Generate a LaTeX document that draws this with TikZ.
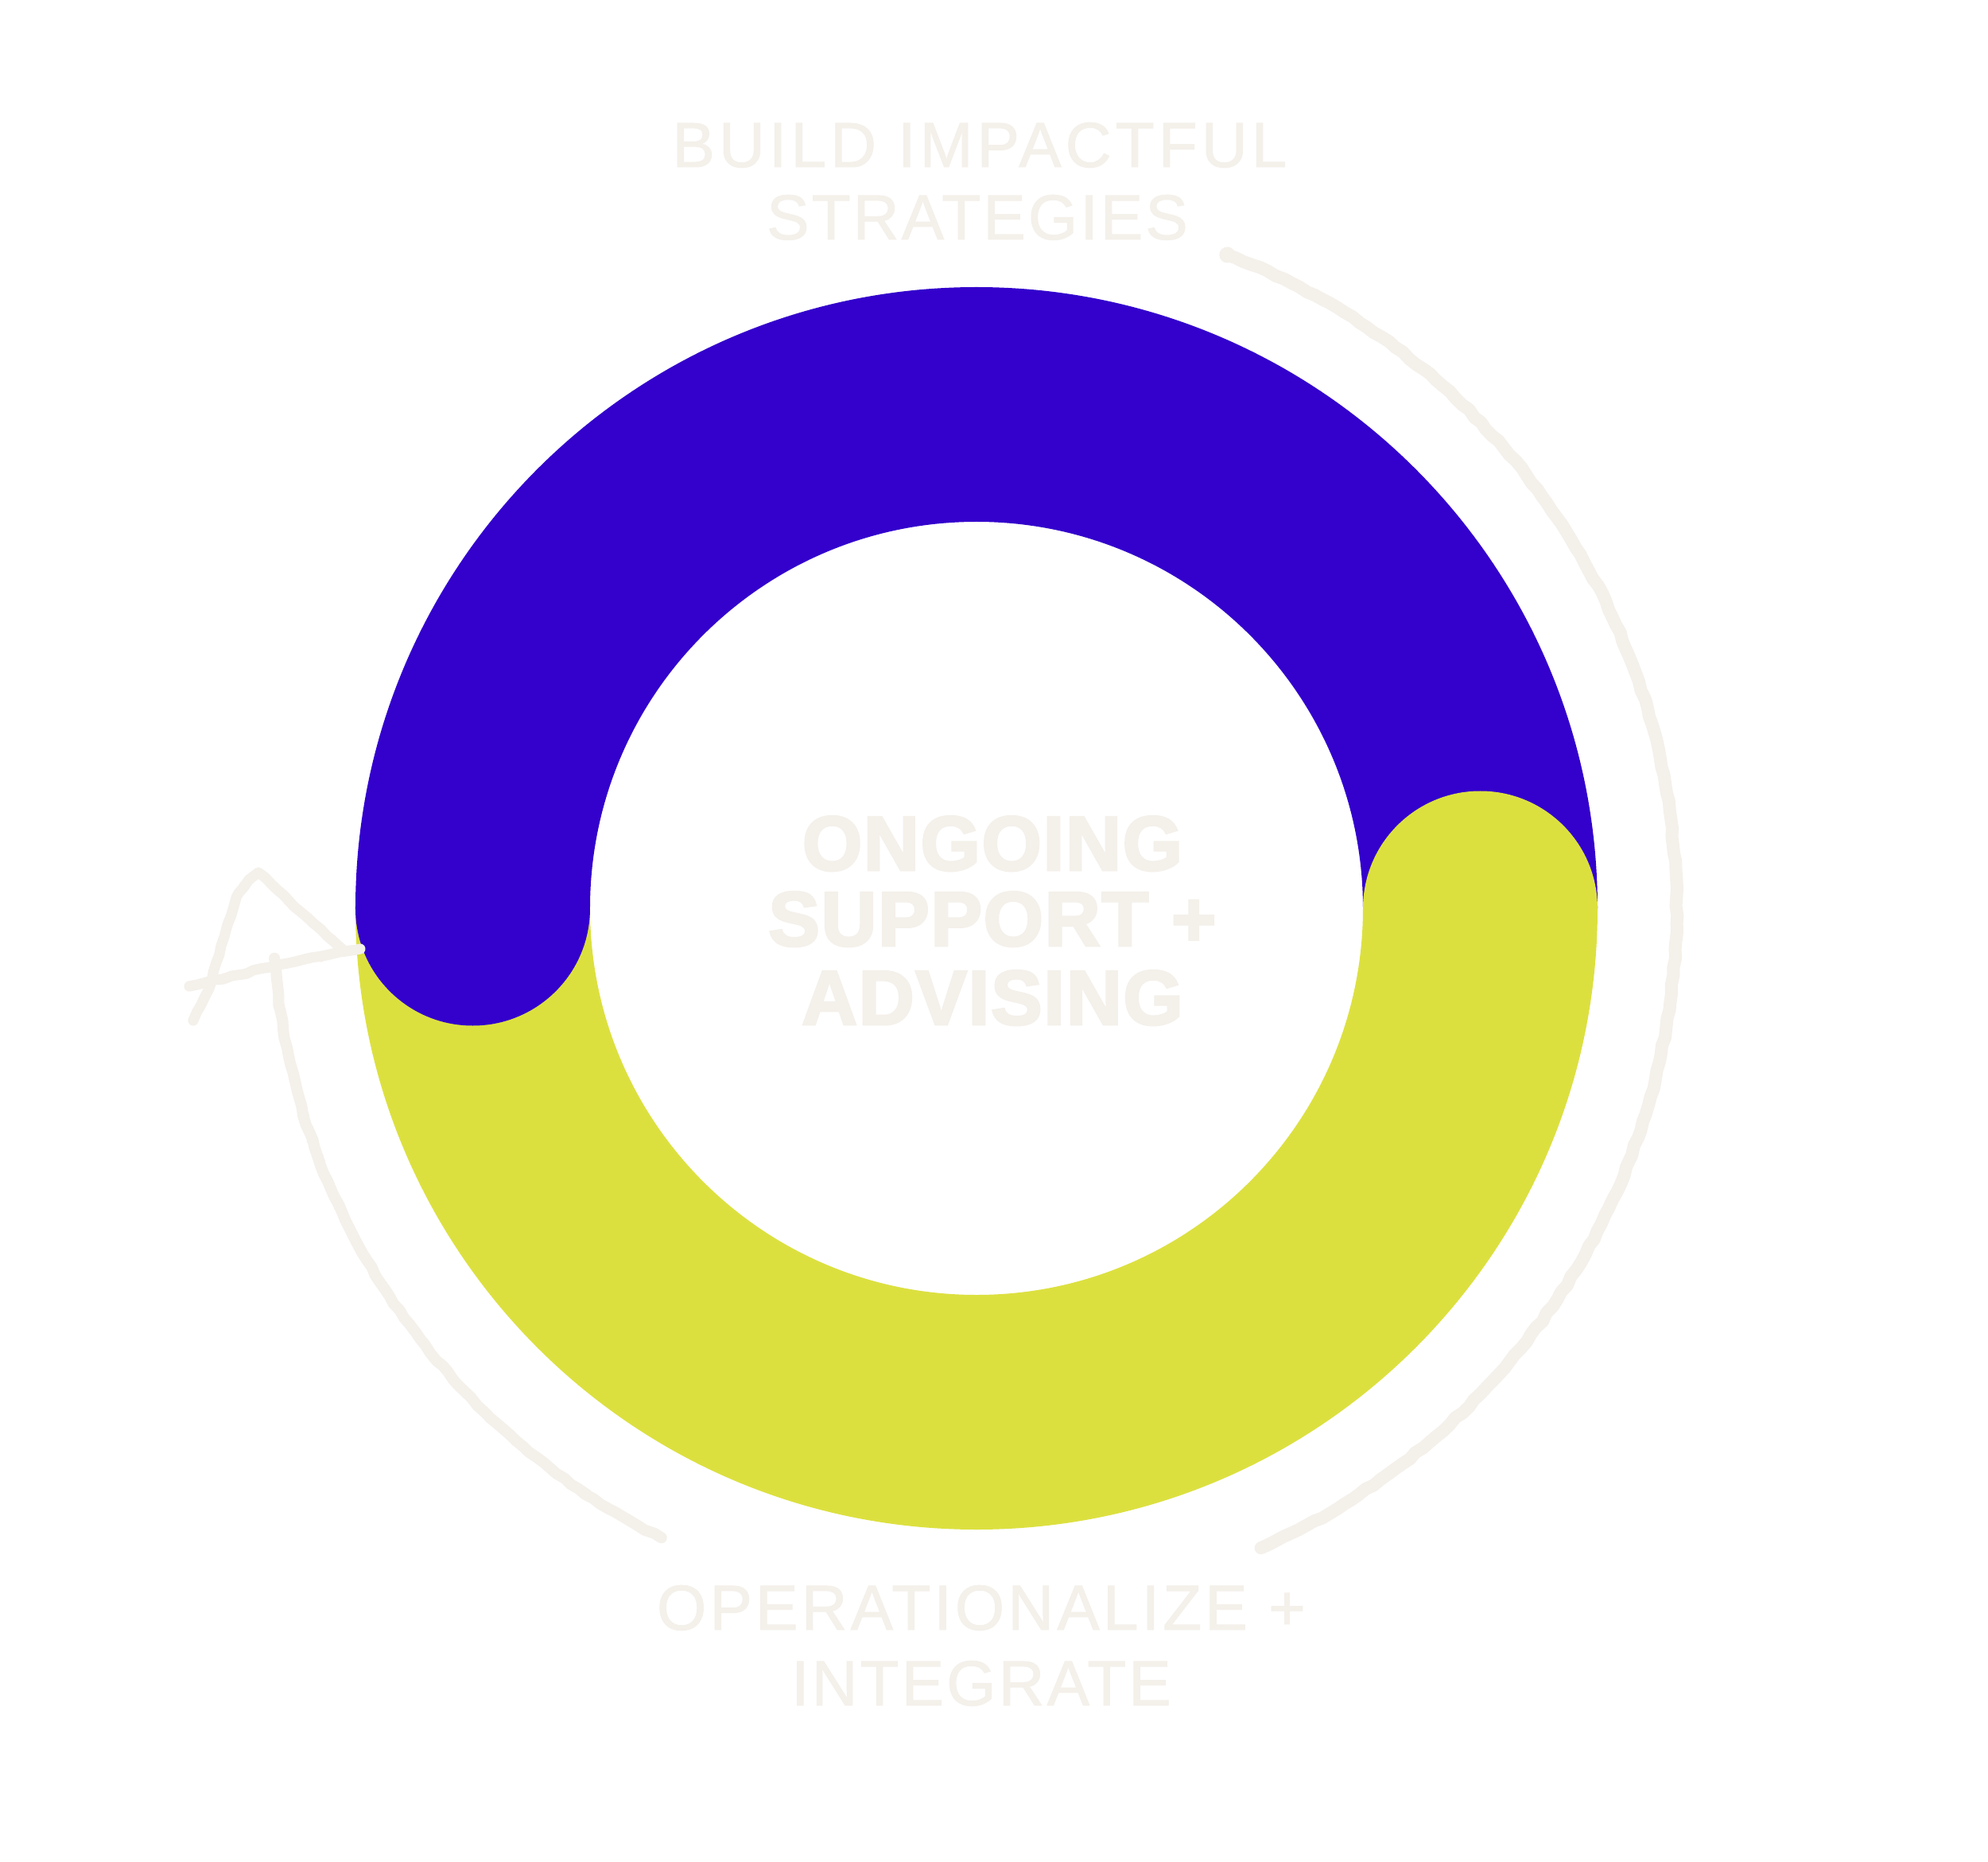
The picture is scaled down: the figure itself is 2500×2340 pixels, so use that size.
\documentclass[tikz,border=0pt]{standalone}
\usepackage{fontspec}
\setmainfont{Liberation Sans}
\newfontfamily\labelfont[LetterSpace=4,FakeBold=1.2]{Liberation Sans}
\newfontfamily\labelwidefont[LetterSpace=6.5,FakeBold=1.2]{Liberation Sans}
\newfontfamily\labelbotfont[LetterSpace=5.3,FakeBold=1.2]{Liberation Sans}
\newfontfamily\centerfont[LetterSpace=1.6,FakeBold=3]{Liberation Sans Bold}
\usetikzlibrary{decorations.pathmorphing}
\definecolor{ringblue}{HTML}{3300CC}
\definecolor{ringyellow}{HTML}{DCE03F}
\definecolor{chalk}{HTML}{F4F0EA}
\begin{document}
\begin{tikzpicture}[x=1pt,y=1pt,
  sketch/.style={draw=chalk, line width=16pt, line cap=round, line join=round,
    decorate, decoration={random steps, segment length=11pt, amplitude=1.2pt}},
  rough/.style={draw=chalk, line width=7pt, line cap=round, line join=round,
    decorate, decoration={random steps, segment length=5pt, amplitude=3.5pt}},
  outer label/.style={text=chalk, anchor=base, inner sep=0pt,
    font=\labelfont\fontsize{80}{96}\selectfont},
  inner label/.style={text=chalk, anchor=base, inner sep=0pt,
    font=\centerfont\fontsize{97}{110}\selectfont}]
\pgfmathsetseed{7}
\useasboundingbox (-1228,-1198) rectangle (1272,1142);
\fill[white] (-1228,-1198) rectangle (1272,1142);
\coordinate (C) at (0,0);
% ring
\fill[ringblue] (0:781) arc[start angle=0,end angle=180,radius=781]
  -- (180:486) arc[start angle=180,end angle=0,radius=486] -- cycle;
\fill[ringyellow] (180:781) arc[start angle=180,end angle=360,radius=781]
  -- (360:486) arc[start angle=360,end angle=180,radius=486] -- cycle;
\fill[ringblue] (-633.5,0) circle[radius=147.5];
\fill[ringyellow] (633.5,0) circle[radius=147.5];
% texts
\node[outer label, font=\labelwidefont\fontsize{80}{96}\selectfont] (top1) at (4,932) {BUILD IMPACTFUL};
\node[outer label] (top2) at (1,841) {STRATEGIES};
\node[inner label] (mid1) at (20,48) {ONGOING};
\node[inner label] (mid2) at (20,-47) {SUPPORT +};
\node[inner label] (mid3) at (20,-146) {ADVISING};
\node[outer label, font=\labelbotfont\fontsize{80}{96}\selectfont] (bot1) at (6,-907) {OPERATIONALIZE +};
\node[outer label] (bot2) at (6,-1002) {INTEGRATE};
% right sketch arc
\coordinate (rs) at (69:880);
\coordinate (re) at (-66:878);
\draw[sketch] (rs) arc[start angle=69,end angle=-66,radius=880];
\draw[rough] (rs) arc[start angle=69,end angle=-66,radius=880];
\fill[chalk] (rs) circle[radius=10];
% left sketch arc with arrowhead
\coordinate (ls) at (243.4:885);
\coordinate (le) at (184.1:885);
\draw[sketch, line width=14pt] (ls) arc[start angle=243.4,end angle=184.1,radius=885];
\draw[rough] (ls) arc[start angle=243.4,end angle=184.1,radius=885];
\coordinate (apex) at (-903,45);
\coordinate (legL) at (-985,-141);
\coordinate (legR) at (-798,-51);
\coordinate (barL) at (-990,-98);
\coordinate (barR) at (-775,-51);
\draw[sketch, line width=13pt] (legL) -- (-965,-101) -- (-956,-68) -- (-941,-18) -- (-928,19) -- (-915,36) -- (apex) -- (-880,24) -- (-858,2) -- (legR);
\draw[rough] (legL) -- (-965,-101) -- (-956,-68) -- (-941,-18) -- (-928,19) -- (-915,36) -- (apex) -- (-880,24) -- (-858,2) -- (legR);
\draw[sketch, line width=13pt] (barL) -- (-930,-84) -- (-878,-71) -- (barR);
\draw[rough] (barL) -- (-930,-84) -- (-878,-71) -- (barR);
\end{tikzpicture}
\end{document}
